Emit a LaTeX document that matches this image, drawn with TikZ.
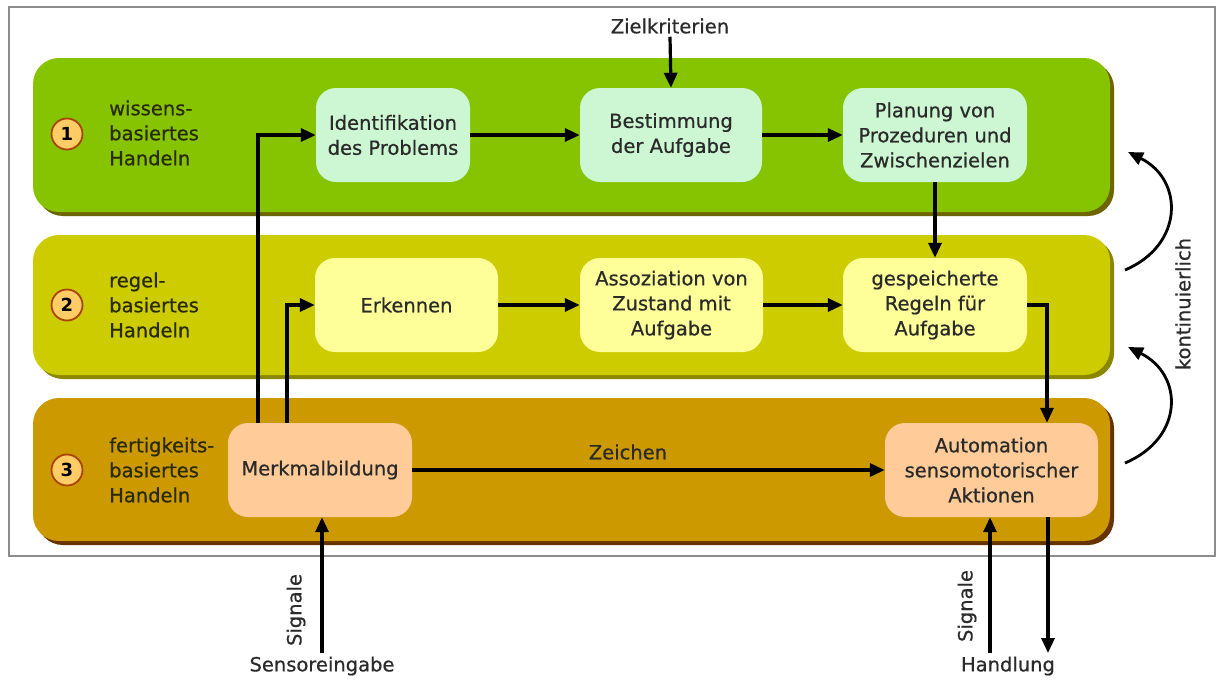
\documentclass[tikz,border=0pt]{standalone}
\usepackage{fontspec}
\setmainfont{DejaVu Sans}[UprightFeatures={FakeBold=0.6}]
\usetikzlibrary{arrows.meta,calc}

\definecolor{bandA}{HTML}{86C300}
\definecolor{bandAsh}{HTML}{6E6400}
\definecolor{bandB}{HTML}{CCCC00}
\definecolor{bandBsh}{HTML}{8A8600}
\definecolor{bandC}{HTML}{CC9900}
\definecolor{bandCsh}{HTML}{663300}
\definecolor{boxA}{HTML}{CCF7D2}
\definecolor{boxB}{HTML}{FFFF99}
\definecolor{boxC}{HTML}{FFCC99}
\definecolor{txt}{HTML}{2A2A2A}
\definecolor{lbl}{HTML}{2A2A00}
\definecolor{badge}{HTML}{FFCC66}
\definecolor{badgeline}{HTML}{AA4400}

\tikzset{
  basefont/.style={font=\fontsize{19.5}{25}\selectfont},
  stepbox/.style={basefont, rounded corners=20pt, minimum height=94pt,
    align=center, text=txt, inner sep=2pt},
  rowlabel/.style={basefont, align=left, anchor=west, text=lbl, inner sep=0pt},
  badgenode/.style={circle, minimum size=31pt, inner sep=0pt, fill=badge,
    draw=badgeline, line width=1.8pt, font=\fontsize{18}{18}\selectfont\bfseries, text=black},
  arr/.style={line width=3.2pt, -{Triangle[length=15pt,width=13pt]}},
  outtext/.style={basefont, text=txt, inner sep=0pt},
}

\begin{document}
\begin{tikzpicture}[x=1pt,y=-1pt]
\useasboundingbox (0,0) rectangle (1218,681);
\fill[white] (0,0) rectangle (1218,681);
% outer frame
\draw[line width=2.2pt, draw=black!45] (9,7) rectangle (1215,556);

% three horizontal bands with offset shadow
\fill[bandAsh, rounded corners=26pt] (37,62) rectangle (1114,216);
\fill[bandA, rounded corners=26pt] (33,58) rectangle (1110,212);
\fill[bandBsh, rounded corners=26pt] (37,239) rectangle (1114,379);
\fill[bandB, rounded corners=26pt] (33,235) rectangle (1110,375);
\fill[bandCsh, rounded corners=26pt] (37,402) rectangle (1114,545);
\fill[bandC, rounded corners=26pt] (33,398) rectangle (1110,541);

% level badges
\node[badgenode] (b1) at (67,134) {1};
\node[badgenode] (b2) at (67,305) {2};
\node[badgenode] (b3) at (67,470) {3};

% level labels
\node[rowlabel] (l1) at (109,133) {wissens-\\basiertes\\Handeln};
\node[rowlabel] (l2) at (109,305) {regel-\\basiertes\\Handeln};
\node[rowlabel] (l3) at (109,470) {fertigkeits-\\basiertes\\Handeln};

% process boxes
\node[stepbox, fill=boxA, minimum width=154pt] (ident) at (393,135) {Identifikation\\des Problems};
\node[stepbox, fill=boxA, minimum width=182pt] (best) at (671,135) {Bestimmung\\der Aufgabe};
\node[stepbox, fill=boxA, minimum width=184pt] (plan) at (935,135) {Planung von\\Prozeduren und\\Zwischenzielen};
\node[stepbox, fill=boxB, minimum width=183pt] (erk) at (406.5,305) {Erkennen};
\node[stepbox, fill=boxB, minimum width=183pt] (asso) at (671.5,305) {Assoziation von\\Zustand mit\\Aufgabe};
\node[stepbox, fill=boxB, minimum width=184pt] (gesp) at (935,305) {gespeicherte\\Regeln für\\Aufgabe};
\node[stepbox, fill=boxC, minimum width=184pt] (merk) at (320,470) {Merkmalbildung};
\node[stepbox, fill=boxC, minimum width=213pt] (auto) at (991.5,470) {Automation\\sensomotorischer\\Aktionen};

% texts outside the bands
\node[outtext] (ziel) at (670,26) {Zielkriterien};
\node[outtext] (sens) at (322,666) {Sensoreingabe};
\node[outtext] (handl) at (1008,666) {Handlung};
\node[outtext, rotate=90] (sig1) at (296,610) {Signale};
\node[outtext, rotate=90] (sig2) at (967,606) {Signale};
\node[outtext, rotate=90] (kont) at (1183,304) {kontinuierlich};
\node[outtext] (zeich) at (628,452) {Zeichen};

% connectors
\draw[arr] ([yshift=-3pt]ziel.south) -- (best.north);
\draw[arr] (ident) -- (best);
\draw[arr] (best) -- (plan);
\draw[arr] (plan) -- (gesp);
\draw[arr] (erk) -- (asso);
\draw[arr] (asso) -- (gesp);
\draw[arr] (gesp.east) -| ([xshift=55.5pt]auto.north);
\draw[arr] ([xshift=-62pt]merk.north) |- (ident.west);
\draw[arr] ([xshift=-33pt]merk.north) |- (erk.west);
\draw[arr] (merk) -- (auto);

\coordinate (sensin) at (322,653);
\draw[arr] (sensin) -- (sensin |- merk.south);
\coordinate (sigin) at (990,653);
\draw[arr] (sigin) -- (sigin |- auto.south);
\coordinate (actout) at (1048,653);
\draw[arr] (actout |- auto.south) -- (actout);

% continuous feedback between levels
\coordinate (k1a) at (1125,270);
\coordinate (k1b) at (1128,152);
\coordinate (k2a) at (1125,463);
\coordinate (k2b) at (1128,347);
\draw[arr, line width=2.8pt] (k1a) .. controls (1184,245) and (1184,180) .. (k1b);
\draw[arr, line width=2.8pt] (k2a) .. controls (1184,438) and (1184,375) .. (k2b);
\end{tikzpicture}
\end{document}
